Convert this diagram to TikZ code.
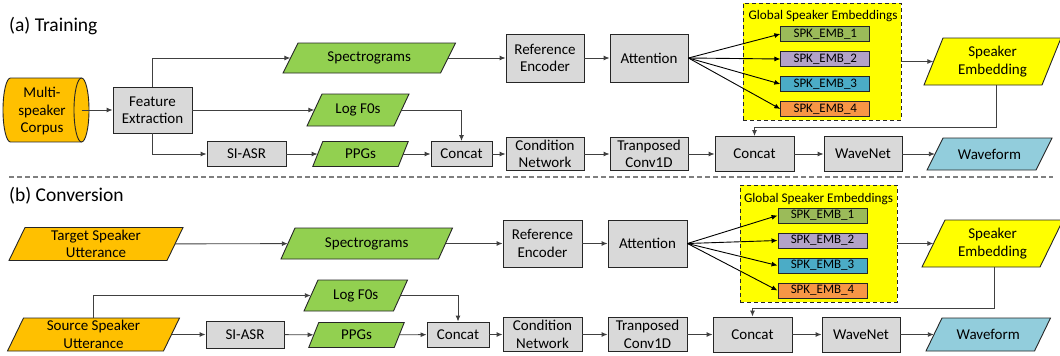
\documentclass[tikz,border=0pt]{standalone}
\usepackage{fontspec}
\setmainfont{Carlito}
\usetikzlibrary{arrows.meta,calc}

\definecolor{edgecol}{HTML}{262626}
\definecolor{wirecol}{HTML}{404040}
\definecolor{sepcol}{HTML}{7F7F7F}
\definecolor{boxgray}{HTML}{D9D9D9}
\definecolor{corpusorange}{HTML}{FFC000}
\definecolor{featgreen}{HTML}{92D050}
\definecolor{wavblue}{HTML}{92CDDC}
\definecolor{embyellow}{HTML}{FFFF00}
\definecolor{embA}{HTML}{9BBB59}
\definecolor{embB}{HTML}{B3A2C7}
\definecolor{embC}{HTML}{4BACC6}
\definecolor{embD}{HTML}{F79646}

\tikzset{
  wh/.style 2 args={minimum width=#1pt, minimum height=#2pt},
  box/.style={draw=edgecol, fill=boxgray, line width=0.9pt, inner sep=0pt,
              align=center, font=\fontsize{15}{17.5}\selectfont},
  txt/.style={inner sep=0pt, align=center, font=\fontsize{15}{17.5}\selectfont},
  emb/.style={draw=edgecol, line width=0.9pt, minimum width=89pt, minimum height=15pt,
              inner sep=0pt, font=\fontsize{13}{15}\selectfont},
  gse/.style={draw=edgecol, fill=embyellow, line width=0.9pt, dash pattern=on 4pt off 3pt},
  gsetitle/.style={inner sep=0pt, font=\fontsize{13.2}{15}\selectfont},
  arr/.style={draw=wirecol, line width=0.9pt, -{Latex[length=6pt,width=5pt]}},
  fan/.style={draw=black, line width=0.9pt, -{Latex[length=6pt,width=5pt]}},
  wire/.style={draw=wirecol, line width=0.9pt},
  sepline/.style={draw=sepcol, line width=1.1pt, dash pattern=on 5pt off 3pt},
  title/.style={anchor=west, inner sep=0pt, font=\fontsize{19.5}{22}\selectfont},
}

% parallelogram data node: name, centre, mid width, height, half slant, fill, label
\newcommand\skewnode[7]{%
  \coordinate (#1-c) at (#2);
  \filldraw[draw=edgecol, line width=0.9pt, fill=#6]
    ([shift={({-(#3)/2-(#5)},{(#4)/2})}]#1-c) --
    ([shift={({-(#3)/2+(#5)},{-(#4)/2})}]#1-c) --
    ([shift={({(#3)/2+(#5)},{-(#4)/2})}]#1-c) --
    ([shift={({(#3)/2-(#5)},{(#4)/2})}]#1-c) -- cycle;
  \node[txt, wh={#3}{#4}] (#1) at (#1-c) {#7};
}

\begin{document}
\begin{tikzpicture}[x=1pt, y=-1pt]
\useasboundingbox (0,0) rectangle (1060,356);

% ===================== (a) Training =====================
\node[title] (titleA) at (9,26) {(a) Training};

% multi-speaker corpus drawn as a horizontal cylinder
\fill[corpusorange] (10.5,78) rectangle (81.5,142);
\fill[corpusorange] (10.5,110) ellipse [x radius=7.5, y radius=32];
\fill[corpusorange] (81.5,110) ellipse [x radius=7.5, y radius=32];
\draw[edgecol, line width=0.9pt] (81.5,110) ellipse [x radius=7.5, y radius=32];
\draw[edgecol, line width=0.9pt] (81.5,78) -- (10.5,78)
  .. controls (6.36,78) and (3,92.33) .. (3,110)
  .. controls (3,127.67) and (6.36,142) .. (10.5,142) -- (81.5,142);
\node[txt] (corpus) at (42,111) {Multi-\\speaker\\Corpus};
\coordinate (corpusout) at (81.5,110);

\node[box, wh={79}{46}] (feA) at (152.5,110) {Feature\\Extraction};
\skewnode{specA}{369.25,58}{157.5}{30}{7.5}{featgreen}{Spectrograms}
\skewnode{logA}{358,110}{87}{32}{7.5}{featgreen}{Log F0s}
\node[box, wh={79}{25}] (asrA) at (246.5,154) {SI-ASR};
\skewnode{ppgA}{360.5,154}{85.5}{25}{5}{featgreen}{PPGs}
\node[box, wh={61}{25}] (catA) at (461.5,154) {Concat};
\node[box, wh={78}{33}] (condA) at (545,154) {Condition\\Network};
\node[box, wh={78}{33}] (tconvA) at (649,154) {Tranposed\\Conv1D};
\node[box, wh={78}{48}] (refA) at (545,58) {Reference\\Encoder};
\node[box, wh={78}{48}] (attA) at (649,58) {Attention};

\node[gse, wh={158}{117}] (gseA) at (822,61.5) {};
\node[gsetitle] (gseAt) at (823,16.5) {Global Speaker Embeddings};
\node[emb, fill=embA] (spkA1) at (825.3,34) {SPK\_EMB\_1};
\node[emb, fill=embB] (spkA2) at (825.3,59) {SPK\_EMB\_2};
\node[emb, fill=embC] (spkA3) at (825.3,84) {SPK\_EMB\_3};
\node[emb, fill=embD] (spkA4) at (825.3,109) {SPK\_EMB\_4};

\skewnode{sembA}{992.5,61.5}{118}{47}{9.5}{embyellow}{Speaker\\Embedding}
\node[box, wh={79}{35}] (cat2A) at (754.5,154) {Concat};
\node[box, wh={78}{35}] (wnA) at (863,154) {WaveNet};
\skewnode{waveA}{989.5,154}{109}{32}{8}{wavblue}{Waveform}

\draw[arr] (corpusout) -- (feA.west);
\draw[arr] (feA.north) |- (specA.west);
\draw[arr] (feA.east) -- (logA.west);
\draw[arr] (feA.south) |- (asrA.west);
\draw[arr] (asrA) -- (ppgA);
\draw[arr] (ppgA) -- (catA);
\draw[arr] (logA.east) -| (catA.north);
\draw[arr] (catA) -- (condA);
\draw[arr] (condA) -- (tconvA);
\draw[arr] (tconvA) -- (cat2A);
\draw[arr] (cat2A) -- (wnA);
\draw[arr] (wnA) -- (waveA);
\draw[arr] (specA) -- (refA);
\draw[arr] (refA) -- (attA);
\foreach \k in {1,...,4} \draw[fan] (attA.east) -- (spkA\k.west);
\draw[arr] (gseA.east) -- (sembA.west);
\draw[arr] ([xshift=4pt]sembA.south) -- ++(0,42) -| (cat2A.north);

% section divider
\coordinate (sepL) at (9,177);
\coordinate (sepR) at (1053,177);
\draw[sepline] (sepL) -- (sepR);

% ===================== (b) Conversion =====================
\node[title] (titleB) at (9,196) {(b) Conversion};

\skewnode{tgtB}{96,244}{158}{33}{8}{corpusorange}{Target Speaker\\Utterance}
\skewnode{srcB}{93.5,334.5}{156}{33}{8}{corpusorange}{Source Speaker\\Utterance}
\skewnode{specB}{366.75,243.5}{157.5}{31}{7}{featgreen}{Spectrograms}
\skewnode{logB}{355.75,295.5}{89.5}{31}{7}{featgreen}{Log F0s}
\node[box, wh={78}{27}] (asrB) at (245,334.5) {SI-ASR};
\skewnode{ppgB}{356.5,335}{85.5}{25}{5}{featgreen}{PPGs}
\node[box, wh={62}{25}] (catB) at (458,334.5) {Concat};
\node[box, wh={79}{34}] (condB) at (542.5,334.5) {Condition\\Network};
\node[box, wh={79}{34}] (tconvB) at (647.5,334.5) {Tranposed\\Conv1D};
\node[box, wh={79}{47}] (refB) at (542.5,243.5) {Reference\\Encoder};
\node[box, wh={79}{47}] (attB) at (647.5,243.5) {Attention};

\node[gse, wh={157}{117}] (gseB) at (818.5,243.5) {};
\node[gsetitle] (gseBt) at (818.5,199) {Global Speaker Embeddings};
\node[emb, fill=embA] (spkB1) at (822.5,215.5) {SPK\_EMB\_1};
\node[emb, fill=embB] (spkB2) at (822.5,240.5) {SPK\_EMB\_2};
\node[emb, fill=embC] (spkB3) at (822.5,265.5) {SPK\_EMB\_3};
\node[emb, fill=embD] (spkB4) at (822.5,290.5) {SPK\_EMB\_4};

\skewnode{sembB}{992.5,243.5}{118}{47}{11.5}{embyellow}{Speaker\\Embedding}
\node[box, wh={79}{35}] (cat2B) at (752.5,334.5) {Concat};
\node[box, wh={78}{35}] (wnB) at (861,334.5) {WaveNet};
\skewnode{waveB}{988.25,334.5}{108.5}{33}{8}{wavblue}{Waveform}

\draw[arr] (tgtB) -- (specB);
\draw[arr] (srcB.north) |- (logB.west);
\draw[arr] (srcB) -- (asrB);
\draw[arr] (asrB) -- (ppgB);
\draw[arr] (ppgB) -- (catB);
\draw[arr] (logB.east) -| (catB.north);
\draw[arr] (catB) -- (condB);
\draw[arr] (condB) -- (tconvB);
\draw[arr] (tconvB) -- (cat2B);
\draw[arr] (cat2B) -- (wnB);
\draw[arr] (wnB) -- (waveB);
\draw[arr] (specB) -- (refB);
\draw[arr] (refB) -- (attB);
\foreach \k in {1,...,4} \draw[fan] (attB.east) -- (spkB\k.west);
\draw[arr] (gseB.east) -- (sembB.west);
\draw[arr] ([xshift=2pt]sembB.south) -- ++(0,41) -| (cat2B.north);
\end{tikzpicture}
\end{document}
